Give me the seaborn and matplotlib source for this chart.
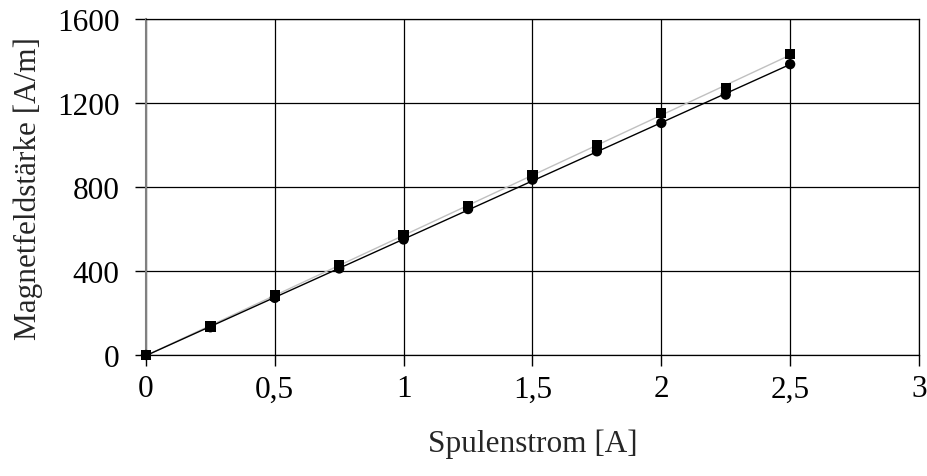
import numpy as np
import pandas as pd
import seaborn as sns
import matplotlib.pyplot as plt

# Coil current [A] and measured field strength [A/m] for two measurement series
strom = [0, 0.25, 0.5, 0.75, 1.0, 1.25, 1.5, 1.75, 2.0, 2.25, 2.5]
h_quadrat = [0, 135, 283, 430, 571, 710, 857, 1000, 1152, 1271, 1433]
h_kreis = [0, 132, 272, 412, 550, 695, 835, 970, 1105, 1240, 1385]

x_ticks = [0, 0.5, 1, 1.5, 2, 2.5, 3]
x_labels = ["0", "0,5", "1", "1,5", "2", "2,5", "3"]
y_ticks = [0, 400, 800, 1200, 1600]

df = pd.DataFrame({"strom": strom, "quadrat": h_quadrat, "kreis": h_kreis})

sns.set_theme(style="white")
plt.rcParams["font.family"] = ["Liberation Serif", "DejaVu Serif"]
plt.rcParams.update({
    "xtick.bottom": True, "ytick.left": True,
    "xtick.major.size": 8, "ytick.major.size": 8,
    "xtick.major.width": 1.0, "ytick.major.width": 1.0,
    "xtick.color": "black", "ytick.color": "black",
})

fig = plt.figure(figsize=(9.28, 4.77), dpi=100)
ax = fig.add_axes([0.1573, 0.2537, 0.8330, 0.7043])

# linear trend lines
sns.regplot(data=df, x="strom", y="quadrat", scatter=False, ci=None, ax=ax,
            color="#c0c0c0", line_kws={"lw": 1.0, "zorder": 3})
sns.regplot(data=df, x="strom", y="kreis", scatter=False, ci=None, ax=ax,
            color="black", line_kws={"lw": 1.0, "zorder": 4})

# measured points
sns.scatterplot(data=df, x="strom", y="quadrat", marker="s", s=55, color="black",
                edgecolor="none", ax=ax, zorder=5, clip_on=False)
sns.scatterplot(data=df, x="strom", y="kreis", marker="o", s=55, color="black",
                edgecolor="none", ax=ax, zorder=5, clip_on=False)

ax.set_xlim(0, 3)
ax.set_ylim(0, 1600)
ax.set_xticks(x_ticks)
ax.set_xticklabels(x_labels)
ax.set_yticks(y_ticks)

ax.grid(True, color="black", lw=0.9)
ax.set_axisbelow(True)
for side in ["top", "right", "bottom"]:
    ax.spines[side].set_color("black")
    ax.spines[side].set_linewidth(0.9)
ax.spines["left"].set_color("#808080")
ax.spines["left"].set_linewidth(1.5)

ax.tick_params(axis="x", direction="out", labelsize=22.5, pad=6)
ax.tick_params(axis="y", direction="out", labelsize=22.5, pad=11)

ax.set_xlabel("Spulenstrom [A]", fontsize=22.5, labelpad=18)
ax.set_ylabel("Magnetfeldstärke [A/m]", fontsize=22.5, labelpad=10)

fig.savefig("out.png", dpi=100)
